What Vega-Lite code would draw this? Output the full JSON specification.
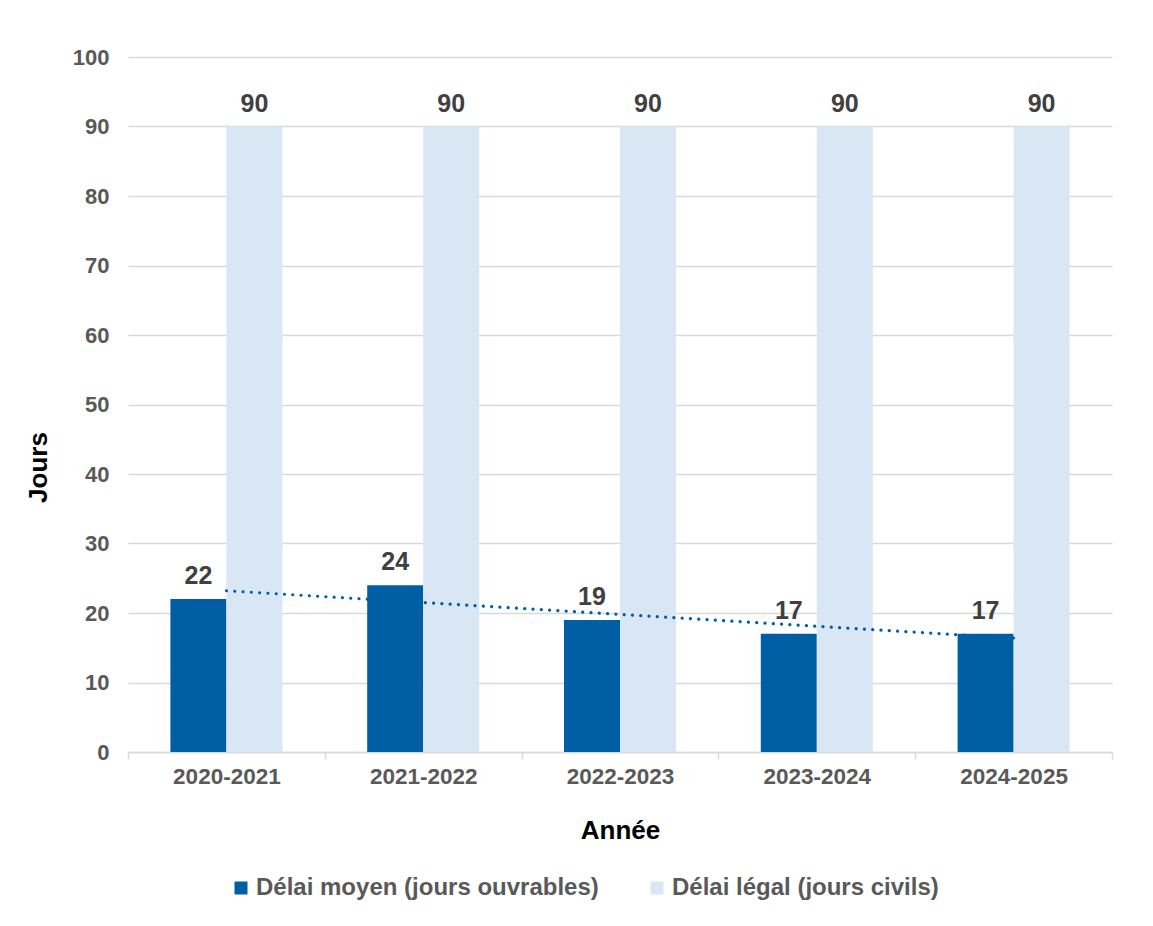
{
  "$schema": "https://vega.github.io/schema/vega-lite/v6.json",
  "width": 984,
  "height": 695,
  "autosize": "none",
  "padding": {"left": 128, "top": 57, "right": 41, "bottom": 174},
  "background": "white",
  "config": {
    "view": {"stroke": null},
    "font": "Liberation Sans"
  },
  "datasets": {
    "bars": [
      {"annee": "2020-2021", "serie": "Délai moyen (jours ouvrables)", "jours": 22},
      {"annee": "2020-2021", "serie": "Délai légal (jours civils)", "jours": 90},
      {"annee": "2021-2022", "serie": "Délai moyen (jours ouvrables)", "jours": 24},
      {"annee": "2021-2022", "serie": "Délai légal (jours civils)", "jours": 90},
      {"annee": "2022-2023", "serie": "Délai moyen (jours ouvrables)", "jours": 19},
      {"annee": "2022-2023", "serie": "Délai légal (jours civils)", "jours": 90},
      {"annee": "2023-2024", "serie": "Délai moyen (jours ouvrables)", "jours": 17},
      {"annee": "2023-2024", "serie": "Délai légal (jours civils)", "jours": 90},
      {"annee": "2024-2025", "serie": "Délai moyen (jours ouvrables)", "jours": 17},
      {"annee": "2024-2025", "serie": "Délai légal (jours civils)", "jours": 90}
    ],
    "trend": [
      {"annee": "2020-2021", "tendance": 23.2},
      {"annee": "2021-2022", "tendance": 21.5},
      {"annee": "2022-2023", "tendance": 19.8},
      {"annee": "2023-2024", "tendance": 18.1},
      {"annee": "2024-2025", "tendance": 16.4}
    ]
  },
  "layer": [
    {
      "data": {"name": "bars"},
      "mark": {"type": "bar"},
      "encoding": {
        "x": {
          "field": "annee", "type": "nominal", "sort": null,
          "scale": {"paddingInner": 0, "paddingOuter": 0},
          "axis": {
            "title": "Année",
            "titleFont": "Liberation Sans",
            "titleFontSize": 26,
            "titleFontWeight": "bold",
            "titleColor": "#000000",
            "titlePadding": 30,
            "labelFont": "Liberation Sans",
            "labelFontSize": 22.5,
            "labelFontWeight": "bold",
            "labelColor": "#595959",
            "labelPadding": 6,
            "labelAngle": 0,
            "domainColor": "#D9D9D9",
            "domainWidth": 1.5,
            "tickColor": "#D9D9D9",
            "tickWidth": 1.5,
            "tickSize": 7,
            "tickBand": "extent",
            "grid": false
          }
        },
        "xOffset": {
          "field": "serie", "type": "nominal", "sort": null,
          "scale": {"paddingInner": 0, "paddingOuter": 0.757}
        },
        "y": {
          "field": "jours", "type": "quantitative",
          "scale": {"domain": [0, 100]},
          "axis": {
            "title": "Jours",
            "titleFont": "Liberation Sans",
            "titleFontSize": 26,
            "titleFontWeight": "bold",
            "titleColor": "#000000",
            "titlePadding": 21,
            "titleY": 410,
            "values": [0, 10, 20, 30, 40, 50, 60, 70, 80, 90, 100],
            "labelFont": "Liberation Sans",
            "labelFontSize": 22,
            "labelFontWeight": "bold",
            "labelColor": "#595959",
            "labelPadding": 19,
            "domain": false,
            "ticks": false,
            "grid": true,
            "gridColor": "#D9D9D9",
            "gridWidth": 1.5
          }
        },
        "color": {
          "field": "serie", "type": "nominal", "sort": null,
          "scale": {
            "domain": ["Délai moyen (jours ouvrables)", "Délai légal (jours civils)"],
            "range": ["#005EA5", "#D9E6F3"]
          },
          "legend": {
            "title": null,
            "orient": "none",
            "direction": "horizontal",
            "legendX": 101,
            "legendY": 819,
            "symbolType": "square",
            "symbolSize": 169,
            "symbolStrokeWidth": 0,
            "symbolOpacity": 1,
            "labelFont": "Liberation Sans",
            "labelFontSize": 24,
            "labelFontWeight": "bold",
            "labelColor": "#595959",
            "labelLimit": 500,
            "columnPadding": 46,
            "labelOffset": 3
          }
        }
      }
    },
    {
      "data": {"name": "bars"},
      "mark": {
        "type": "text",
        "baseline": "alphabetic",
        "dy": -15,
        "font": "Liberation Sans",
        "fontSize": 25,
        "fontWeight": "bold",
        "color": "#404040"
      },
      "encoding": {
        "x": {"field": "annee", "type": "nominal", "sort": null},
        "xOffset": {"field": "serie", "type": "nominal", "sort": null},
        "y": {"field": "jours", "type": "quantitative"},
        "text": {"field": "jours", "type": "quantitative"}
      }
    },
    {
      "data": {"name": "trend"},
      "mark": {
        "type": "line",
        "color": "#005EA5",
        "strokeWidth": 3.2,
        "strokeDash": [0.1, 8.2],
        "strokeCap": "round"
      },
      "encoding": {
        "x": {"field": "annee", "type": "nominal", "sort": null},
        "y": {"field": "tendance", "type": "quantitative"}
      }
    }
  ]
}
